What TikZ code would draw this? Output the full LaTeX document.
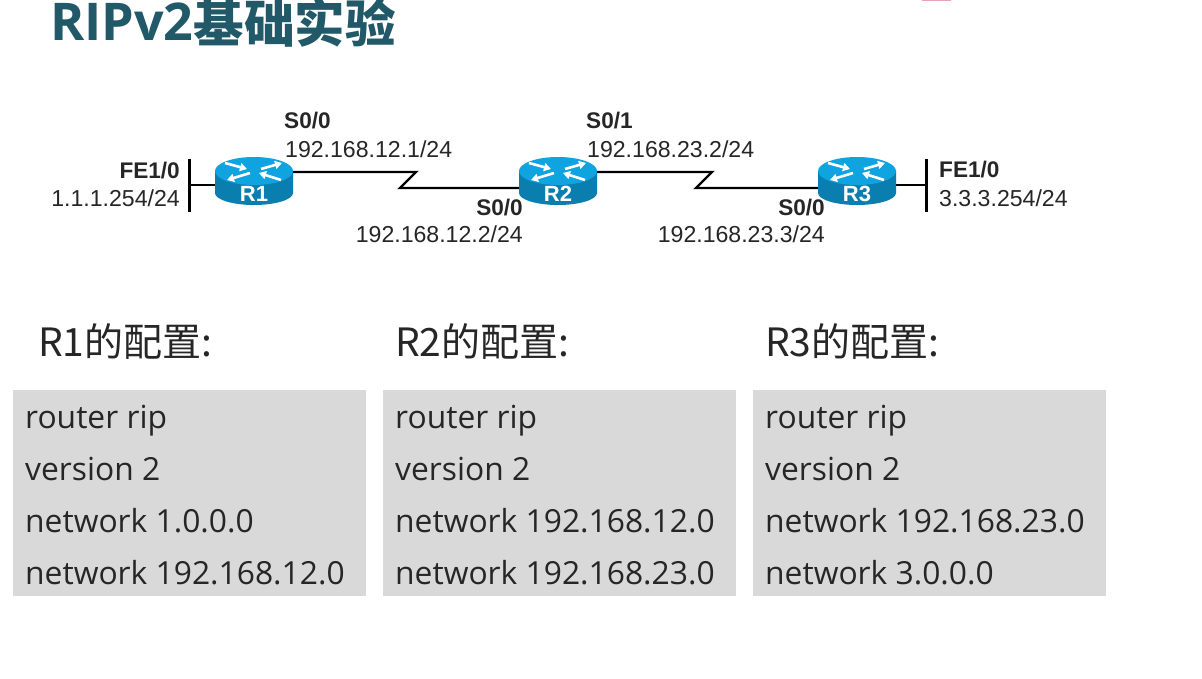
\documentclass[tikz,border=0pt]{standalone}
\usepackage{fontspec}
\setmainfont{Open Sans}
\newfontfamily\labelfont{Liberation Sans}
\newfontfamily\cjkfont{Noto Sans CJK SC}
\usetikzlibrary{calc,arrows.meta}
\definecolor{titleteal}{HTML}{215968}
\definecolor{boxgrey}{HTML}{D9D9D9}
\definecolor{routertop}{HTML}{0FA3E0}
\definecolor{routerside}{HTML}{0A7FAF}
\definecolor{pinksliver}{HTML}{E8A0BC}
\definecolor{txt}{HTML}{262626}
\tikzset{
  x=1pt,y=-1pt,
  lbl/.style={font=\labelfont\fontsize{23.1}{24}\selectfont,text=black!85,inner sep=0pt},
  lblb/.style={lbl,font=\labelfont\bfseries\fontsize{22.6}{24}\selectfont},
  cfgbox/.style={fill=boxgrey,draw=none,inner sep=0pt,minimum width=353pt,minimum height=206pt,anchor=north west},
  cfgline/.style={font=\fontsize{31.8}{34}\selectfont,text=txt,inner sep=0pt,anchor=base west},
  cfghead/.style={font=\cjkfont\fontsize{39}{42}\selectfont,text=txt,inner sep=0pt,anchor=base west},
  wire/.style={draw=black,line width=2.4pt},
  bar/.style={draw=black,line width=3pt},
  rnode/.style={inner sep=0pt,minimum width=78pt,minimum height=48pt,draw=none}
}
\newcommand{\routerdraw}[2]{%
  \begin{scope}[shift={(#1,181)}]
    \fill[routerside] (-39,-10) -- (-39,12) arc[start angle=180,end angle=360,x radius=39pt,y radius=12pt] -- (39,-10) -- cycle;
    \fill[routertop] (0,-10) ellipse[x radius=39pt,y radius=14pt];
    \begin{scope}[white,line width=2.6pt,-{Triangle[length=7pt,width=8pt]}]
      \draw (-29,-18) -- (-7,-12);
      \draw (7,-12) -- (28,-18);
      \draw (-4,-8) -- (-27,-1);
      \draw (27,-1) -- (5,-8);
    \end{scope}
  \end{scope}
  \node[rnode] (#2) at (#1,181) {};
  \node[font=\labelfont\bfseries\fontsize{22}{24}\selectfont,text=white,inner sep=0pt,anchor=base] (#2t) at (#1,202) {#2};
}
\begin{document}
\begin{tikzpicture}
\useasboundingbox[fill=white] (0,0) rectangle (1202,679);

\fill[pinksliver] (922,0) rectangle (951,1.2);
\node[font=\bfseries\fontsize{52}{54}\selectfont,text=titleteal,inner sep=0pt,anchor=base west] (title) at (50,40.5) {RIPv2\raisebox{-2pt}{\cjkfont\bfseries\fontsize{50.5}{54}\selectfont 基础实验}};

% connector end coordinates
\coordinate (z1a) at (416,172);
\coordinate (z1b) at (400,188);
\coordinate (z2a) at (712,172);
\coordinate (z2b) at (696,188);
\coordinate (bar1t) at (189,159);
\coordinate (bar1b) at (189,212);
\coordinate (bar1m) at (189,185);
\coordinate (bar3t) at (926,159);
\coordinate (bar3b) at (926,212);
\coordinate (bar3m) at (926,185);

\routerdraw{254}{R1}
\routerdraw{558}{R2}
\routerdraw{857}{R3}

\draw[bar] (bar1t) -- (bar1b);
\draw[bar] (bar3t) -- (bar3b);
\draw[wire] (bar1m) -- (R1.west |- bar1m);
\draw[wire] (bar3m) -- (R3.east |- bar3m);
\draw[wire] (R1.east |- z1a) -- (z1a) -- (z1b) -- (R2.west |- z1b);
\draw[wire] (R2.east |- z2a) -- (z2a) -- (z2b) -- (R3.west |- z2b);

% interface labels
\node[lblb,anchor=base east] (l1a) at (180,179) {FE1/0};
\node[lbl,anchor=base east] (l1b) at (180,207) {1.1.1.254/24};
\node[lblb,anchor=base west] (l2a) at (284,129) {S0/0};
\node[lbl,anchor=base west] (l2b) at (285,158) {192.168.12.1/24};
\node[lblb,anchor=base east] (l3a) at (523,215) {S0/0};
\node[lbl,anchor=base east] (l3b) at (523,243) {192.168.12.2/24};
\node[lblb,anchor=base west] (l4a) at (586,129) {S0/1};
\node[lbl,anchor=base west] (l4b) at (587,158) {192.168.23.2/24};
\node[lblb,anchor=base east] (l5a) at (825,215) {S0/0};
\node[lbl,anchor=base east] (l5b) at (825,243) {192.168.23.3/24};
\node[lblb,anchor=base west] (l6a) at (939,178) {FE1/0};
\node[lbl,anchor=base west] (l6b) at (939,207) {3.3.3.254/24};

% headers
\node[cfghead] (h1) at (38,356) {R1的配置:};
\node[cfghead] (h2) at (395,356) {R2的配置:};
\node[cfghead] (h3) at (765,356) {R3的配置:};

% boxes
\node[cfgbox] (b1) at (13,390) {};
\node[cfgbox] (b2) at (383,390) {};
\node[cfgbox] (b3) at (753,390) {};

% config text
\node[cfgline] (c11) at (25,428) {router rip};
\node[cfgline] (c12) at (25,480) {version 2};
\node[cfgline] (c13) at (25,532) {network 1.0.0.0};
\node[cfgline] (c14) at (25,584) {network 192.168.12.0};
\node[cfgline] (c21) at (395,428) {router rip};
\node[cfgline] (c22) at (395,480) {version 2};
\node[cfgline] (c23) at (395,532) {network 192.168.12.0};
\node[cfgline] (c24) at (395,584) {network 192.168.23.0};
\node[cfgline] (c31) at (765,428) {router rip};
\node[cfgline] (c32) at (765,480) {version 2};
\node[cfgline] (c33) at (765,532) {network 192.168.23.0};
\node[cfgline] (c34) at (765,584) {network 3.0.0.0};
\end{tikzpicture}
\end{document}
